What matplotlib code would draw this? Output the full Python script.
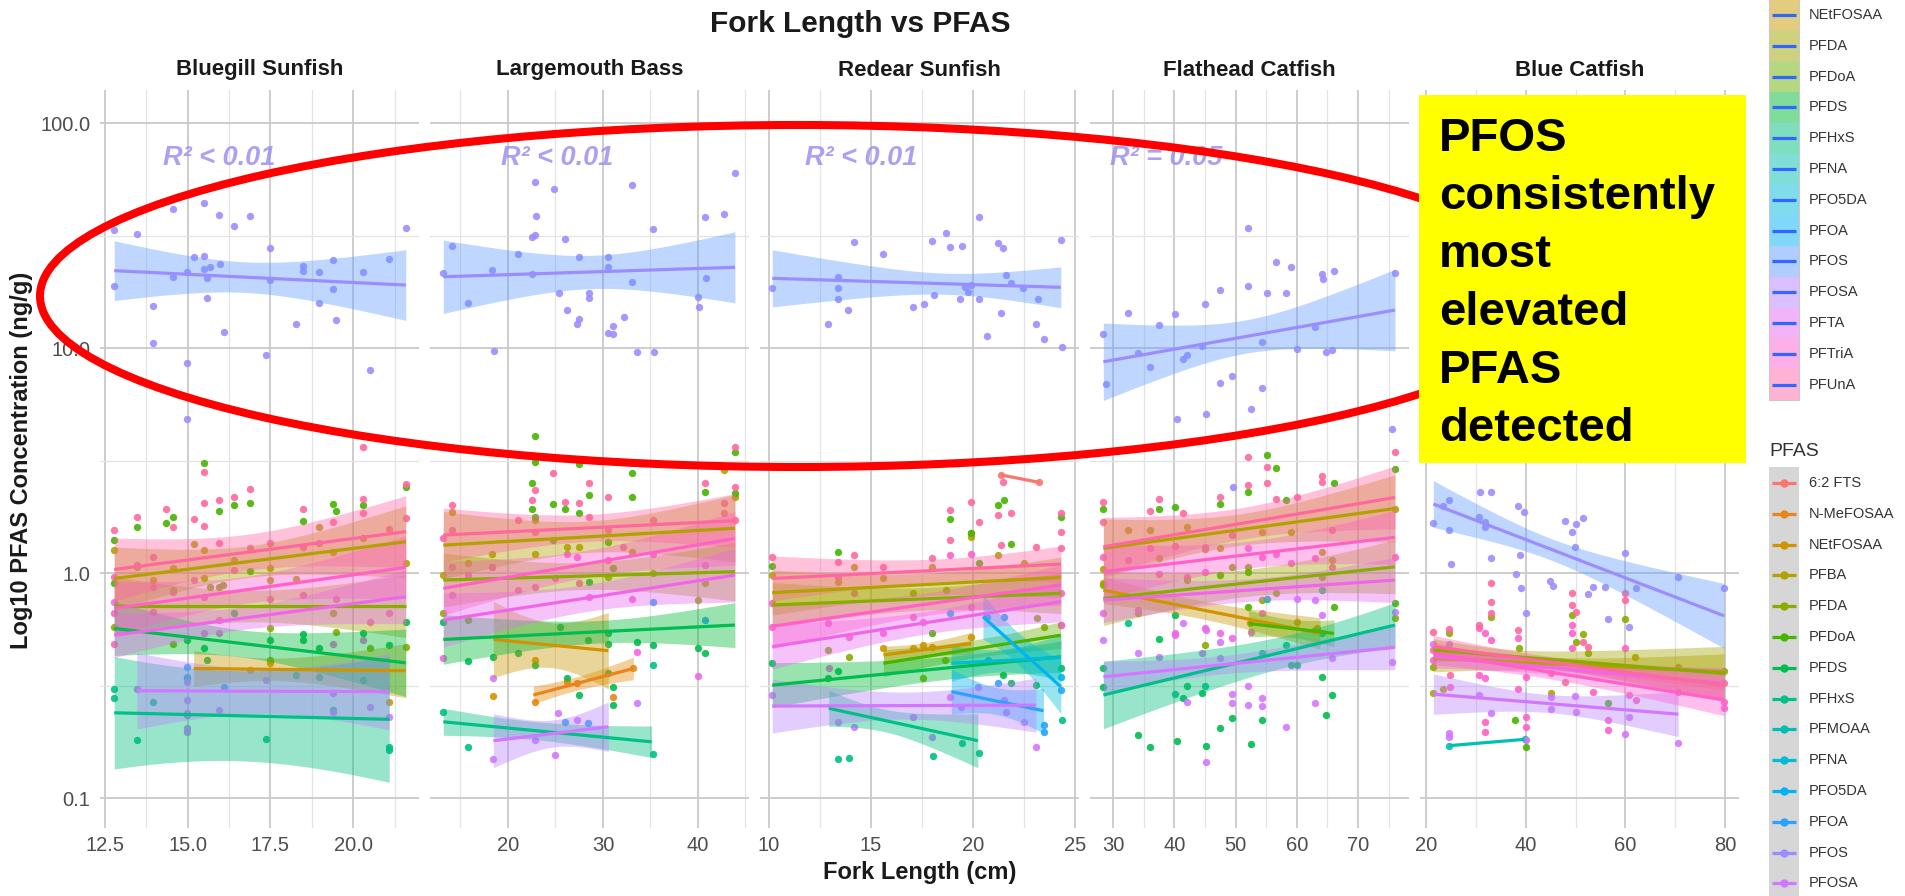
import numpy as np
import matplotlib
matplotlib.use("Agg")
import matplotlib.pyplot as plt
from matplotlib.patches import Ellipse, Rectangle
from matplotlib.ticker import FixedLocator, NullFormatter

plt.rcParams['font.family'] = ['Liberation Sans', 'DejaVu Sans']

# ---------------------------------------------------------------- data
PFAS_LEVELS = ['6:2 FTS', 'N-MeFOSAA', 'NEtFOSAA', 'PFBA', 'PFDA', 'PFDoA', 'PFDS', 'PFHxS',
               'PFMOAA', 'PFNA', 'PFO5DA', 'PFOA', 'PFOS', 'PFOSA', 'PFTA', 'PFTriA', 'PFUnA']
FILL_LEVELS = ['6:2 FTS', 'N-MeFOSAA', 'NEtFOSAA', 'PFDA', 'PFDoA', 'PFDS', 'PFHxS', 'PFNA',
               'PFO5DA', 'PFOA', 'PFOS', 'PFOSA', 'PFTA', 'PFTriA', 'PFUnA']
SPECIES = ['Bluegill Sunfish', 'Largemouth Bass', 'Redear Sunfish', 'Flathead Catfish', 'Blue Catfish']
X_TICKS = [[12.5, 15.0, 17.5, 20.0], [20, 30, 40], [10, 15, 20, 25], [30, 40, 50, 60, 70], [20, 40, 60, 80]]
X_TICK_LABELS = [['12.5', '15.0', '17.5', '20.0'], ['20', '30', '40'], ['10', '15', '20', '25'],
                 ['30', '40', '50', '60', '70'], ['20', '40', '60', '80']]
X_MINOR = [[13.75, 16.25, 18.75, 21.25], [15, 25, 35, 45], [12.5, 17.5, 22.5], [35, 45, 55, 65, 75], [30, 50, 70]]
Y_TICKS = [0.1, 1.0, 10.0, 100.0]
Y_TICK_LABELS = ['0.1', '1.0', '10.0', '100.0']
R2_LABELS = ['R² < 0.01', 'R² < 0.01', 'R² < 0.01', 'R² = 0.05', None]

# points: fork length (cm), log10 concentration (ng/g)
BG_PTS = {
    'PFOS': ([12.78, 13.46, 14.57, 15.48, 15.96, 16.39, 16.87, 21.59, 17.48, 15.18, 15.48, 15.98, 15.66, 15.48, 14.97, 14.57,
              15.58, 12.78, 17.48, 18.48, 18.48, 18.98, 19.39, 20.30, 21.09, 19.39, 18.98, 15.58, 13.96, 18.28, 19.49, 16.09,
              13.96, 14.97, 17.38, 20.50, 14.97],
             [1.524, 1.507, 1.618, 1.643, 1.593, 1.542, 1.588, 1.532, 1.447, 1.403, 1.409, 1.375, 1.359, 1.350, 1.339, 1.317,
              1.311, 1.276, 1.302, 1.364, 1.344, 1.336, 1.391, 1.336, 1.397, 1.262, 1.201, 1.224, 1.187, 1.105, 1.123, 1.073,
              1.021, 0.935, 0.969, 0.902, 0.684]),
    'PFUnA': ([12.78, 13.46, 14.35, 15.18, 15.48, 15.96, 16.39, 16.87, 18.48, 19.39, 20.30, 21.59, 21.59, 14.57, 15.48, 15.96,
               16.87, 17.48, 18.48, 18.98, 20.30, 21.09, 20.30, 15.48],
              [0.191, 0.250, 0.283, 0.240, 0.310, 0.324, 0.336, 0.372, 0.287, 0.225, 0.329, 0.396, 0.247, 0.206, 0.210, 0.132,
               0.110, 0.132, 0.117, 0.132, 0.265, 0.194, 0.560, 0.449]),
    'PFTriA': ([13.96, 12.78, 13.96, 14.57, 15.18, 16.39, 17.48, 18.48, 19.49, 20.50, 21.09, 15.48, 12.78, 12.78, 13.46, 13.96, 15.96],
               [0.070, -0.016, -0.061, -0.083, -0.031, 0.013, -0.113, -0.098, -0.113, -0.216, -0.179, -0.105, -0.179, -0.313,
                0.036, -0.172, -0.209]),
    'PFDoA': ([12.78, 13.46, 14.35, 14.57, 15.96, 16.39, 16.87, 18.48, 19.39, 19.49, 20.30, 21.59, 12.78, 16.87, 15.48],
              [0.147, 0.206, 0.221, 0.250, 0.276, 0.302, 0.310, 0.233, 0.307, 0.276, 0.302, 0.384, -0.046, 0.010, 0.489]),
    'PFDS': ([17.48, 18.48, 18.48, 18.98, 20.30, 21.09, 21.59, 15.48, 15.58, 14.97, 16.39],
             [-0.298, -0.271, -0.298, -0.335, -0.265, -0.320, -0.216, -0.335, -0.387, -0.298, -0.176]),
    'PFBA': ([12.78, 13.46, 14.57, 15.18, 15.48, 16.39, 17.48, 17.48, 18.28, 18.98, 19.39, 20.30, 21.59, 13.96, 15.48],
             [0.102, 0.028, 0.021, 0.129, 0.102, 0.058, 0.021, -0.031, -0.027, 0.206, 0.095, 0.154, 0.043, -0.031, -0.024]),
    'PFDA': ([15.96, 12.78, 14.57, 15.66, 16.07, 19.39, 19.49, 20.50, 21.59, 17.48, 17.48, 14.57],
             [-0.061, -0.239, -0.076, -0.061, -0.053, -0.179, -0.261, -0.335, -0.327, -0.246, -0.387, -0.313]),
    'PFTA': ([12.78, 15.48, 15.96, 19.39, 20.30],
             [-0.127, -0.265, -0.265, -0.313, -0.298]),
    'PFOSA': ([13.46, 14.97, 14.97, 14.97, 14.97, 14.97, 15.96, 17.38, 19.39, 20.50, 21.09, 19.39],
              [-0.513, -0.483, -0.564, -0.624, -0.690, -0.705, -0.609, -0.473, -0.535, -0.594, -0.639, -0.616]),
    'PFHxS': ([12.78, 12.78, 13.46, 13.96, 14.97, 14.97, 17.38, 21.09, 21.09, 18.28, 18.98, 20.30, 19.39],
              [-0.513, -0.557, -0.742, -0.572, -0.631, -0.468, -0.739, -0.772, -0.787, -0.453, -0.461, -0.473, -0.609]),
    'PFOA': ([14.97, 14.97, 16.09], [-0.416, -0.461, -0.505]),
    'NEtFOSAA': ([17.48, 21.09, 16.87], [-0.401, -0.572, -0.431]),
}
# fits: pfas, x start, x end, log10 start, log10 end, CI half-width (left, narrowest, right)
BG_FITS = [
    ('NEtFOSAA', 15.18, 21.59, -0.424, -0.434, 0.08, 0.05, 0.12),
    ('PFBA', 12.78, 21.59, -0.024, 0.139, 0.14, 0.07, 0.16),
    ('PFDA', 12.78, 21.59, -0.147, -0.147, 0.13, 0.07, 0.14),
    ('PFDS', 12.78, 21.59, -0.246, -0.399, 0.12, 0.06, 0.15),
    ('PFHxS', 12.78, 21.09, -0.621, -0.650, 0.25, 0.20, 0.28),
    ('PFOS', 12.78, 21.59, 1.344, 1.280, 0.133, 0.068, 0.157),
    ('PFOSA', 13.46, 21.09, -0.523, -0.527, 0.17, 0.10, 0.17),
    ('PFTA', 12.78, 21.59, -0.276, -0.105, 0.10, 0.05, 0.12),
    ('PFTriA', 12.78, 21.59, -0.157, 0.025, 0.12, 0.06, 0.14),
    ('PFUnA', 12.78, 21.59, 0.016, 0.184, 0.14, 0.08, 0.16),
]

LMB_PTS = {
    'PFOS': ([14.07, 13.19, 15.82, 18.28, 18.53, 21.02, 22.56, 22.84, 24.84, 22.95, 22.56, 22.84, 26.0, 25.37, 26.25, 27.51,
              27.47, 27.23, 28.53, 28.53, 30.56, 30.56, 31.02, 30.56, 31.09, 32.21, 33.09, 33.02, 33.54, 35.23, 35.40, 40.04,
              40.14, 40.74, 40.81, 42.77, 43.89],
             [1.455, 1.332, 1.199, 1.345, 0.988, 1.418, 1.329, 1.739, 1.707, 1.588, 1.495, 1.503, 1.483, 1.247, 1.169, 1.406,
              1.129, 1.105, 1.247, 1.224, 1.406, 1.359, 1.099, 1.068, 1.062, 1.138, 1.726, 1.292, 0.981, 1.529, 0.981, 1.225,
              1.181, 1.584, 1.310, 1.597, 1.776]),
    'PFDoA': ([22.84, 22.84, 22.56, 22.56, 24.77, 26.0, 27.47, 28.53, 33.09, 33.09, 40.74, 43.89, 43.89, 27.47, 22.84, 24.77,
               30.56, 31.02],
              [0.609, 0.495, 0.399, 0.283, 0.307, 0.287, 0.265, 0.347, 0.443, 0.339, 0.361, 0.539, 0.354, 0.487, 0.250, 0.147,
               0.139, 0.021]),
    'PFDS': ([28.53, 30.56, 30.56, 33.54, 35.30, 40.04, 40.74, 15.82, 18.46, 21.02, 13.19, 26.18, 22.84, 25.5, 28.45, 30.56,
              31.02, 31.02, 27.47],
             [-0.039, -0.313, -0.268, -0.305, -0.320, -0.332, -0.354, -0.390, -0.375, -0.357, -0.216, -0.468, -0.409, -0.239,
              -0.298, -0.446, -0.505, -0.587, -0.542]),
    'PFHxS': ([35.30, 15.82, 13.19, 35.30], [-0.806, -0.772, -0.616, -0.409]),
    'PFUnA': ([22.84, 22.56, 24.77, 26.0, 27.47, 28.53, 30.56, 40.74, 43.89, 43.89, 14.07, 21.02, 22.84, 28.53, 30.56, 32.14,
               35.30, 42.77, 42.77, 43.89],
              [0.369, 0.324, 0.443, 0.317, 0.310, 0.399, 0.339, 0.399, 0.561, 0.384, 0.302, 0.236, 0.184, 0.250, 0.191, 0.117,
               0.236, 0.310, 0.265, 0.236]),
    'PFTriA': ([13.19, 14.07, 14.07, 15.82, 18.28, 21.02, 22.84, 24.95, 26.18, 27.23, 27.47, 28.53, 30.56, 33.02, 35.30, 40.74],
               [0.154, 0.191, 0.028, -0.009, 0.028, -0.076, -0.061, -0.024, 0.087, 0.073, -0.046, -0.105, 0.058, -0.113,
                0.087, 0.036]),
    'PFTA': ([14.07, 33.54, 40.04, 13.19], [-0.098, -0.350, -0.458, -0.379]),
    'PFOSA': ([18.46, 18.46, 22.84, 24.95, 25.3, 27.23, 33.54], [-0.468, -0.828, -0.742, -0.809, -0.621, -0.653, -0.579]),
    'PFBA': ([14.07, 15.82, 18.28, 22.84, 22.84, 26.18, 27.47, 33.09, 42.77, 43.89, 13.19],
             [0.273, 0.043, 0.087, 0.087, 0.236, 0.117, 0.117, 0.095, 0.458, 0.339, -0.009]),
    'PFDA': ([18.28, 30.56, 40.04, 40.74, 35.30, 13.19, 15.82], [0.028, -0.016, -0.120, -0.046, -0.001, -0.179, -0.209]),
    'N-MeFOSAA': ([22.84, 26.18, 27.23, 31.02, 33.19], [-0.572, -0.483, -0.490, -0.550, -0.424]),
    'NEtFOSAA': ([18.46, 22.84], [-0.547, -0.387]),
    'PFOA': ([26.0, 28.45, 35.30, 40.74], [-0.661, -0.668, -0.127, -0.209]),
}
LMB_FITS = [
    ('N-MeFOSAA', 22.67, 33.19, -0.542, -0.424, 0.04, 0.03, 0.05),
    ('NEtFOSAA', 18.46, 30.56, -0.295, -0.345, 0.17, 0.10, 0.17),
    ('PFBA', 13.19, 43.89, 0.124, 0.199, 0.15, 0.07, 0.15),
    ('PFDA', 13.19, 43.89, -0.031, 0.006, 0.12, 0.06, 0.13),
    ('PFDS', 13.19, 43.89, -0.295, -0.231, 0.11, 0.05, 0.10),
    ('PFHxS', 13.19, 35.12, -0.661, -0.750, 0.06, 0.04, 0.07),
    ('PFOS', 13.19, 43.89, 1.317, 1.359, 0.163, 0.074, 0.158),
    ('PFOSA', 18.46, 30.56, -0.745, -0.683, 0.12, 0.06, 0.11),
    ('PFTA', 13.19, 43.89, -0.209, -0.009, 0.12, 0.06, 0.12),
    ('PFTriA', 13.19, 43.89, -0.068, 0.154, 0.12, 0.06, 0.12),
    ('PFUnA', 13.19, 43.89, 0.169, 0.233, 0.12, 0.06, 0.12),
]

RS_PTS = {
    'PFOS': ([10.16, 13.38, 13.38, 13.38, 13.87, 12.89, 14.15, 15.58, 17.07, 17.59, 18.08, 17.97, 18.67, 18.86, 19.48, 19.38,
              19.59, 19.76, 19.92, 20.29, 20.29, 20.68, 21.25, 21.46, 21.63, 21.38, 21.87, 22.47, 23.09, 23.2, 23.46, 24.31, 24.39],
             [1.268, 1.317, 1.265, 1.218, 1.169, 1.105, 1.470, 1.418, 1.184, 1.194, 1.236, 1.476, 1.513, 1.450, 1.453, 1.218,
              1.273, 1.250, 1.280, 1.584, 1.216, 1.055, 1.468, 1.446, 1.324, 1.154, 1.290, 1.265, 1.105, 1.216, 1.040, 1.480, 1.003]),
    'PFUnA': ([10.16, 13.38, 14.15, 15.61, 17.97, 18.86, 18.86, 19.89, 20.29, 21.25, 21.46, 21.89, 21.38, 23.09, 24.31, 24.31, 24.31],
              [0.073, 0.050, 0.080, 0.028, 0.065, 0.280, 0.147, 0.317, 0.228, 0.258, 0.406, 0.268, 0.124, 0.117, 0.265, 0.181, 0.110]),
    'PFTriA': ([10.16, 13.38, 14.15, 18.86, 19.89, 24.31, 24.31, 10.16, 12.89, 13.9, 15.61, 17.56, 19.92, 17.07],
               [-0.135, -0.016, -0.090, 0.080, 0.087, -0.090, -0.231, -0.239, -0.224, -0.283, -0.268, -0.216, -0.150, -0.194]),
    '6:2 FTS': ([21.38, 23.25], [0.436, 0.403]),
    'PFDoA': ([10.16, 13.38, 18.86, 19.89, 21.25, 21.54, 21.89, 24.31, 20.29, 17.97],
              [0.031, 0.095, 0.239, 0.176, 0.302, 0.324, 0.129, 0.250, 0.043, -0.268]),
    'PFDS': ([10.16, 13.38, 12.89, 21.46, 21.87, 23.09, 24.31], [-0.401, -0.434, -0.468, -0.453, -0.490, -0.498, -0.424]),
    'PFHxS': ([13.38, 13.9, 18.05, 19.48, 20.28, 24.39], [-0.828, -0.824, -0.813, -0.757, -0.799, -0.653]),
    'PFBA': ([10.16, 13.38, 14.15, 15.61, 17.97, 19.89, 19.89, 21.25, 22.49],
             [-0.009, -0.039, 0.025, -0.024, 0.028, 0.176, 0.161, 0.080, 0.043]),
    'PFDA': ([17.07, 18.67, 23.15, 23.5, 12.89, 13.9, 17.56, 18.62], [-0.090, -0.076, -0.201, -0.239, -0.342, -0.375, -0.468, -0.387]),
    'NEtFOSAA': ([15.61, 17.07, 17.56, 17.97, 19.92], [-0.335, -0.335, -0.320, -0.327, -0.283]),
    'PFOSA': ([10.16, 13.38, 14.15, 17.07, 17.97, 18.86, 20.26, 21.63, 23.09, 22.49, 19.4, 21.54],
              [-0.542, -0.661, -0.683, -0.639, -0.727, -0.550, -0.505, -0.616, -0.772, -0.661, -0.594, -0.564]),
    'PFTA': ([12.93, 24.31], [-0.424, -0.231]),
    'PFOA': ([21.22, 23.46, 23.46, 24.31], [-0.490, -0.676, -0.705, -0.520]),
    'PFO5DA': ([20.7, 21.54, 20.73, 24.31], [-0.194, -0.194, -0.387, -0.461]),
    'PFNA': ([18.86], [-0.179]),
}
RS_FITS = [
    ('6:2 FTS', 21.38, 23.25, 0.436, 0.403, 0.0, 0.0, 0.0),
    ('NEtFOSAA', 15.61, 19.92, -0.364, -0.313, 0.04, 0.03, 0.05),
    ('PFBA', 10.16, 24.31, -0.087, -0.019, 0.10, 0.05, 0.09),
    ('PFDA', 10.16, 24.31, -0.142, -0.090, 0.10, 0.05, 0.09),
    ('PFDoA', 15.61, 24.31, -0.401, -0.276, 0.06, 0.04, 0.06),
    ('PFDS', 10.16, 24.31, -0.498, -0.372, 0.10, 0.05, 0.07),
    ('PFHxS', 12.93, 20.24, -0.601, -0.745, 0.08, 0.05, 0.12),
    ('PFNA', 18.94, 24.31, -0.401, -0.375, 0.08, 0.05, 0.10),
    ('PFO5DA', 20.49, 24.31, -0.194, -0.505, 0.10, 0.07, 0.12),
    ('PFOA', 18.94, 23.46, -0.527, -0.612, 0.10, 0.06, 0.10),
    ('PFOS', 10.16, 24.31, 1.310, 1.270, 0.127, 0.047, 0.091),
    ('PFOSA', 10.16, 23.09, -0.591, -0.587, 0.12, 0.06, 0.12),
    ('PFTA', 10.16, 24.31, -0.327, -0.127, 0.10, 0.05, 0.09),
    ('PFTriA', 10.16, 24.31, -0.236, -0.053, 0.10, 0.05, 0.09),
    ('PFUnA', 10.16, 24.31, -0.024, 0.040, 0.10, 0.05, 0.08),
]

FC_PTS = {
    'PFOS': ([28.42, 28.86, 32.5, 34.03, 36.04, 37.51, 40.12, 40.5, 41.48, 42.03, 44.48, 45.02, 45.18, 47.47, 47.47, 49.48,
              52.1, 52.1, 52.5, 54.27, 54.27, 55.09, 56.56, 58.19, 59.01, 60.0, 62.98, 64.07, 64.23, 64.78, 65.7, 66.08,
              76.04, 75.5, 49.6],
             [1.062, 0.840, 1.154, 0.976, 0.917, 1.102, 1.150, 0.687, 0.951, 0.969, 1.010, 1.196, 0.707, 1.258, 0.843, 0.877,
              1.532, 1.276, 0.729, 1.028, 0.821, 1.246, 1.384, 1.243, 1.361, 0.996, 1.095, 1.329, 1.305, 0.984, 0.991, 1.344,
              1.332, 0.640, 0.384]),
    'PFUnA': ([28.42, 28.42, 37.51, 36.04, 41.48, 47.47, 52.1, 52.1, 55.09, 55.09, 56.56, 60.0, 64.07, 64.07, 76.04],
              [0.317, 0.228, 0.329, 0.277, 0.265, 0.336, 0.514, 0.391, 0.470, 0.399, 0.329, 0.336, 0.431, 0.406, 0.539]),
    'PFTriA': ([76.04, 28.42, 32.5, 36.04, 37.51, 40.12, 42.03, 45.02, 49.48, 52.1, 54.27, 56.56, 59.01, 62.98, 65.7, 65.7, 45.02],
               [0.073, 0.073, 0.058, 0.110, -0.004, 0.120, -0.016, 0.117, 0.169, 0.110, 0.073, 0.087, 0.043, 0.065, 0.191,
                0.028, 0.006]),
    'PFTA': ([45.02, 47.47, 49.48, 52.5, 54.27, 40.12, 34.03, 28.42], [-0.246, -0.268, -0.290, -0.261, -0.179, -0.268, -0.164, -0.179]),
    'PFDoA': ([28.42, 37.51, 40.12, 47.47, 52.1, 55.09, 56.56, 58.19, 66.08, 76.04, 76.04, 52.1, 47.47, 52.1, 66.08],
              [0.283, 0.287, 0.292, 0.307, 0.361, 0.524, 0.465, 0.324, 0.401, 0.461, -0.135, -0.150, -0.009, 0.006, -0.150]),
    'PFDS': ([28.42, 28.42, 34.03, 36.04, 40.5, 41.48, 42.03, 44.48, 45.18, 47.47, 49.48, 52.5, 54.27, 64.07, 64.78, 65.7,
              37.51, 40.12, 59.01, 60.0],
             [-0.508, -0.424, -0.720, -0.775, -0.745, -0.553, -0.501, -0.535, -0.767, -0.687, -0.646, -0.761, -0.653, -0.461,
              -0.631, -0.542, -0.295, -0.187, -0.409, -0.409]),
    'PFBA': ([28.42, 32.5, 36.04, 37.51, 42.03, 45.02, 47.47, 54.27, 59.01, 64.07, 65.7, 76.04],
             [0.016, 0.191, 0.191, 0.065, 0.206, 0.105, 0.110, 0.184, 0.184, 0.095, 0.058, 0.287]),
    'PFDA': ([28.42, 34.03, 42.03, 49.48, 52.1, 54.27, 56.56, 64.07, 76.04, 45.02, 62.98],
             [-0.053, -0.176, -0.031, 0.028, 0.028, -0.120, -0.090, -0.016, -0.201, -0.320, -0.253]),
    'PFOSA': ([28.42, 34.03, 37.51, 40.12, 41.48, 42.03, 44.48, 45.18, 45.18, 47.47, 47.47, 49.48, 49.48, 52.1, 52.1, 54.27,
               54.27, 58.19, 60.0, 62.98, 62.98, 64.07, 65.7, 75.5, 76.04],
              [-0.298, -0.357, -0.375, -0.276, -0.221, -0.572, -0.357, -0.253, -0.839, -0.305, -0.376, -0.538, -0.576, -0.587,
               -0.501, -0.557, -0.591, -0.683, -0.113, -0.120, -0.579, -0.187, -0.379, -0.394, -0.172]),
    'PFHxS': ([32.5, 40.12, 45.02, 58.19, 64.07, 64.07, 54.27, 55.09], [-0.224, -0.538, -0.502, -0.320, -0.076, -0.268, -0.357, -0.113]),
    'NEtFOSAA': ([28.42, 52.3, 60.0, 63.3], [-0.046, -0.224, -0.216, -0.246]),
}
FC_FITS = [
    ('NEtFOSAA', 28.42, 63.8, -0.076, -0.268, 0.06, 0.04, 0.07),
    ('PFBA', 28.42, 76.04, 0.110, 0.287, 0.13, 0.07, 0.15),
    ('PFDA', 28.42, 76.04, -0.113, 0.028, 0.12, 0.06, 0.12),
    ('PFDoA', 52.1, 66.08, -0.224, -0.268, 0.06, 0.04, 0.06),
    ('PFHxS', 28.42, 76.04, -0.542, -0.231, 0.15, 0.07, 0.10),
    ('PFOS', 28.42, 76.04, 0.939, 1.169, 0.172, 0.074, 0.181),
    ('PFOSA', 28.42, 76.04, -0.461, -0.330, 0.07, 0.04, 0.10),
    ('PFTA', 28.42, 76.04, -0.120, -0.031, 0.10, 0.05, 0.10),
    ('PFTriA', 28.42, 76.04, 0.006, 0.159, 0.12, 0.06, 0.12),
    ('PFUnA', 28.42, 76.04, 0.117, 0.336, 0.13, 0.07, 0.14),
]

BC_PTS = {
    'PFOS': ([21.47, 23.47, 24.67, 24.67, 25.0, 30.8, 33.13, 30.67, 31.93, 31.93, 33.07, 38.47, 39.6, 38.8, 38.0, 39.13,
              40.0, 44.93, 45.47, 47.8, 49.33, 50.0, 51.47, 49.8, 53.47, 52.47, 56.0, 56.47, 59.93, 60.8, 62.13, 70.6, 79.8],
             [0.221, 0.298, 0.327, 0.191, 0.040, 0.361, 0.361, 0.250, 0.228, 0.206, 0.068, 0.299, 0.273, 0.080, -0.006, -0.068,
              -0.179, -0.036, -0.056, 0.233, 0.184, 0.216, 0.247, 0.114, -0.061, -0.093, -0.061, -0.206, 0.090, -0.239,
              -0.068, -0.016, -0.068]),
    'PFUnA': ([21.47, 24.67, 30.67, 33.13, 33.13, 33.13, 38.47, 49.33, 49.33, 50.0, 51.47, 52.47, 59.93, 59.93, 79.8, 24.8,
               45.13, 47.8, 21.47],
              [-0.261, -0.250, -0.231, -0.046, -0.127, -0.176, -0.253, -0.090, -0.142, -0.172, -0.305, -0.327, -0.090, -0.120,
               -0.490, -0.453, -0.446, -0.483, -0.342]),
    'PFTriA': ([30.67, 31.93, 33.13, 38.47, 38.47, 40.0, 40.0, 40.0, 49.33, 49.33, 49.33, 59.93, 60.8, 62.13, 79.8, 79.8,
                56.47, 56.47, 53.47, 24.8, 31.93, 31.93, 31.93, 21.47, 30.67, 70.47],
               [-0.246, -0.268, -0.298, -0.290, -0.517, -0.639, -0.683, -0.461, -0.231, -0.268, -0.335, -0.332, -0.542, -0.564,
                -0.572, -0.601, -0.653, -0.698, -0.527, -0.505, -0.468, -0.661, -0.705, -0.387, -0.453, -0.527]),
    'PFDA': ([24.67, 33.13, 38.67, 49.33, 50.0, 51.47, 52.47, 59.93, 79.8, 21.47],
             [-0.268, -0.194, -0.335, -0.187, -0.305, -0.271, -0.357, -0.206, -0.434, -0.419]),
    'PFDoA': ([37.8, 40.0, 56.47], [-0.653, -0.772, -0.576]),
    'PFOSA': ([24.67, 24.67, 30.67, 33.13, 40.0, 45.13, 45.13, 49.8, 50.0, 60.8, 59.93, 70.6, 21.47, 24.67],
              [-0.710, -0.727, -0.542, -0.624, -0.742, -0.550, -0.606, -0.547, -0.616, -0.639, -0.716, -0.757, -0.313, -0.313]),
    'PFBA': ([21.47, 23.47, 62.0, 70.47, 45.13], [-0.535, -0.517, -0.375, -0.416, -0.535]),
    'PFMOAA': ([24.67, 39.8], [-0.767, -0.739]),
}
BC_FITS = [
    ('PFBA', 21.47, 79.8, -0.379, -0.439, 0.06, 0.03, 0.08),
    ('PFDA', 21.47, 79.8, -0.342, -0.446, 0.05, 0.03, 0.12),
    ('PFMOAA', 24.67, 39.8, -0.767, -0.739, 0.0, 0.0, 0.0),
    ('PFOS', 21.47, 79.8, 0.307, -0.190, 0.104, 0.048, 0.144),
    ('PFOSA', 21.47, 70.6, -0.538, -0.627, 0.09, 0.04, 0.10),
    ('PFTA', 21.47, 79.8, -0.372, -0.490, 0.05, 0.03, 0.07),
    ('PFTriA', 21.47, 79.8, -0.357, -0.564, 0.05, 0.03, 0.07),
    ('PFUnA', 21.47, 79.8, -0.327, -0.498, 0.05, 0.025, 0.07),
]

PANEL_POINTS = [BG_PTS, LMB_PTS, RS_PTS, FC_PTS, BC_PTS]
PANEL_FITS = [BG_FITS, LMB_FITS, RS_FITS, FC_FITS, BC_FITS]

LEGEND_TOP = ['N-MeFOSAA', 'NEtFOSAA', 'PFDA', 'PFDoA', 'PFDS', 'PFHxS', 'PFNA', 'PFO5DA', 'PFOA', 'PFOS',
              'PFOSA', 'PFTA', 'PFTriA', 'PFUnA']
NOTE_LINES = ['PFOS', 'consistently', 'most', 'elevated', 'PFAS', 'detected']


# ---------------------------------------------------------------- colours (ggplot hue palette)
def hcl_rgb(h, c=100.0, l=65.0):
    hr = np.deg2rad(h)
    u, v = c * np.cos(hr), c * np.sin(hr)
    Y = ((l + 16) / 116) ** 3
    Xn, Yn, Zn = 0.95047, 1.0, 1.08883
    d = Xn + 15 * Yn + 3 * Zn
    un, vn = 4 * Xn / d, 9 * Yn / d
    up, vp = u / (13 * l) + un, v / (13 * l) + vn
    X = Y * 9 * up / (4 * vp)
    Z = Y * (12 - 3 * up - 20 * vp) / (4 * vp)
    M = np.array([[3.2404542, -1.5371385, -0.4985314],
                  [-0.9692660, 1.8760108, 0.0415560],
                  [0.0556434, -0.2040259, 1.0572252]])
    rgb = M @ np.array([X, Y, Z])
    rgb = np.clip(rgb, 0, None)
    rgb = np.where(rgb <= 0.0031308, 12.92 * rgb, 1.055 * rgb ** (1 / 2.4) - 0.055)
    return tuple(np.clip(rgb, 0, 1))


def hue_pal(levels):
    hues = np.linspace(15, 375, len(levels) + 1)[:-1]
    return {lv: hcl_rgb(h) for lv, h in zip(levels, hues)}


COL = hue_pal(PFAS_LEVELS)
FILL = hue_pal(FILL_LEVELS)
for k in PFAS_LEVELS:
    FILL.setdefault(k, COL[k])

# ---------------------------------------------------------------- figure
W, H = 1905, 896
fig = plt.figure(figsize=(W / 100, H / 100), dpi=100)
fig.patch.set_facecolor('white')

P_TOP, P_BOT, P_W = 90, 828, 319
P_LEFT = [100, 430, 760, 1090, 1420]
XLIMS = [(12.35, 21.99), (11.79, 45.37), (9.56, 25.2), (26.24, 78.33), (18.8, 82.8)]
YLIM = (10 ** -1.133, 10 ** 2.147)


def ci_halfwidth(xs, x0, x1, wl, wm, wr):
    dl = np.sqrt(max(wl ** 2 - wm ** 2, 0))
    dr = np.sqrt(max(wr ** 2 - wm ** 2, 0))
    if dl + dr == 0:
        return np.full_like(xs, wm)
    xc = (x0 * dr + x1 * dl) / (dl + dr)
    k = (dl + dr) / (x1 - x0)
    return np.sqrt(wm ** 2 + (k * (xs - xc)) ** 2)


for i in range(5):
    ax = fig.add_axes([P_LEFT[i] / W, (H - P_BOT) / H, P_W / W, (P_BOT - P_TOP) / H])
    ax.set_yscale('log')
    ax.set_xlim(*XLIMS[i])
    ax.set_ylim(*YLIM)
    for s in ax.spines.values():
        s.set_visible(False)
    ax.set_xticks(X_TICKS[i])
    ax.set_xticklabels(X_TICK_LABELS[i])
    ax.xaxis.set_minor_locator(FixedLocator(X_MINOR[i]))
    ax.set_yticks(Y_TICKS)
    ax.set_yticklabels(Y_TICK_LABELS if i == 0 else [])
    ax.yaxis.set_minor_locator(FixedLocator([10 ** -0.5, 10 ** 0.5, 10 ** 1.5]))
    ax.yaxis.set_minor_formatter(NullFormatter())
    ax.tick_params(which='both', length=0)
    ax.tick_params(axis='x', pad=6, labelsize=14.5, labelcolor='#4d4d4d')
    ax.tick_params(axis='y', pad=7, labelsize=14.5, labelcolor='#4d4d4d')
    ax.grid(which='major', color='#c9c9c9', lw=1.3)
    ax.grid(which='minor', color='#e3e3e3', lw=0.9)
    ax.set_axisbelow(True)

    pts = PANEL_POINTS[i]
    for name in PFAS_LEVELS:
        if name in pts:
            xs, ls = pts[name]
            ax.scatter(xs, 10 ** np.array(ls), s=28, color=COL[name], alpha=0.9, lw=0, zorder=2)

    for (name, x0, x1, l0, l1, wl, wm, wr) in PANEL_FITS[i]:
        xs = np.linspace(x0, x1, 80)
        ctr = l0 + (l1 - l0) * (xs - x0) / (x1 - x0)
        if wm > 0:
            hw = ci_halfwidth(xs, x0, x1, wl, wm, wr)
            ax.fill_between(xs, 10 ** (ctr - hw), 10 ** (ctr + hw), color=FILL[name], alpha=0.4, lw=0, zorder=3)
        ax.plot([x0, x1], [10 ** l0, 10 ** l1], color=COL[name], lw=2.3, zorder=4, solid_capstyle='butt')

# ---------------------------------------------------------------- overlay (pixel coordinates)
ov = fig.add_axes([0, 0, 1, 1])
ov.set_xlim(0, W)
ov.set_ylim(H, 0)
ov.axis('off')
ov.patch.set_alpha(0)

ov.text(860, 24, 'Fork Length vs PFAS', ha='center', va='center', fontsize=21.5, fontweight='bold', color='#1a1a1a')
for i in range(5):
    ov.text(P_LEFT[i] + P_W / 2, 70, SPECIES[i], ha='center', va='center', fontsize=16, fontweight='bold', color='#1a1a1a')
ov.text(920, 873, 'Fork Length (cm)', ha='center', va='center', fontsize=17, fontweight='bold', color='#1a1a1a')
ov.text(22, 460, 'Log10 PFAS Concentration (ng/g)', ha='center', va='center', rotation=90,
        fontsize=17, fontweight='bold', color='#1a1a1a')

R2_X = [163, 501, 805, 1110]
for i, lab in enumerate(R2_LABELS):
    if lab:
        ov.text(R2_X[i], 158, lab, ha='left', va='center', fontsize=19.5, fontweight='bold', style='italic',
                color='#9c90f0', alpha=0.85)

# red ellipse
ov.add_patch(Ellipse((798, 296), 1516, 342, fill=False, ec='#ff0000', lw=5.8, zorder=10))

# upper legend (fill keys, cropped at the top of the image)
ROW = 30.8
for j, name in enumerate(LEGEND_TOP):
    yc = 15 + ROW * (j - 1)
    ov.add_patch(Rectangle((1769, yc - ROW / 2), 30, ROW, fc=FILL[name], alpha=0.5, ec='none', zorder=5))
    if yc > 0:
        ov.plot([1772, 1796], [yc, yc], color='#3366ff', lw=2.3, zorder=6, solid_capstyle='butt')
        ov.text(1809, yc, name, ha='left', va='center', fontsize=10.5, color='#333333')
ov.add_patch(Rectangle((1769, -10), 30, 410, fill=False, ec='#c8c8c8', lw=0.8, zorder=7))

# lower legend (colour keys)
ov.text(1769, 452, 'PFAS', ha='left', va='center', fontsize=14, color='#333333')
ov.add_patch(Rectangle((1769, 467), 30, 440, fc='#d6d6d6', ec='none', zorder=5))
for j, name in enumerate(PFAS_LEVELS):
    yc = 483 + ROW * j
    if yc > H - 8:
        break
    ov.plot([1772, 1796], [yc, yc], color=COL[name], lw=2.3, zorder=6, solid_capstyle='butt')
    ov.plot([1784], [yc], 'o', ms=5, color=COL[name], zorder=7)
    ov.text(1809, yc, name, ha='left', va='center', fontsize=10.5, color='#333333')

# yellow note
ov.add_patch(Rectangle((1419, 95), 327, 368, fc='#ffff00', ec='none', zorder=20))
for j, line in enumerate(NOTE_LINES):
    ov.text(1439, 151 + 58 * j, line, ha='left', va='baseline', fontsize=34, fontweight='bold',
            color='black', zorder=21)

fig.savefig('out.png', dpi=100)
